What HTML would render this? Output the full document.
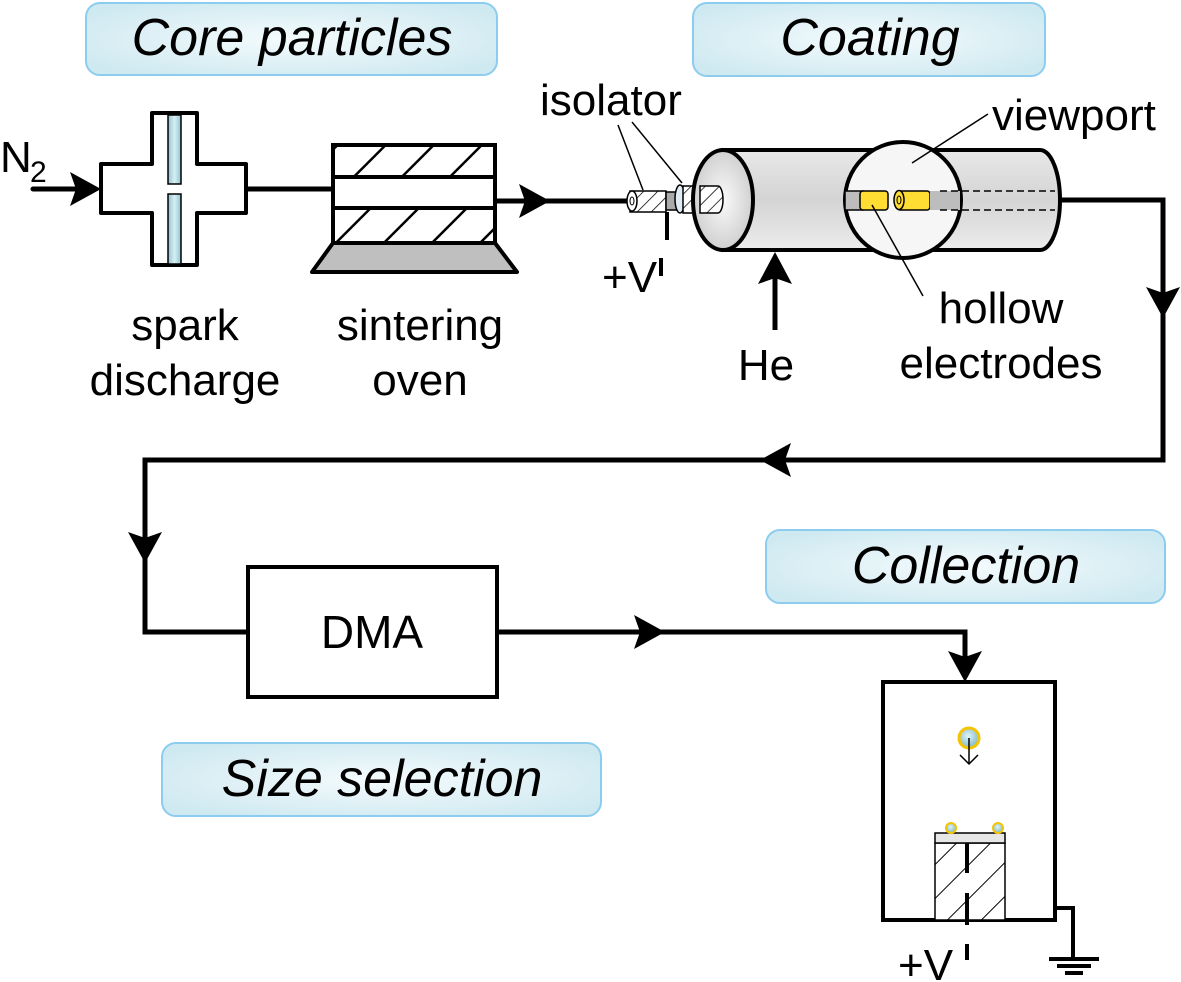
<!DOCTYPE html>
<html><head><style>body{margin:0;background:#fff}svg{display:block}text{font-family:"Liberation Sans",sans-serif;fill:#000}</style></head>
<body>
<svg width="1181" height="982" viewBox="0 0 1181 982" xmlns="http://www.w3.org/2000/svg">
<defs>
<radialGradient id="lb" cx="50%" cy="50%" r="60%"><stop offset="0" stop-color="#f4fbfd"/><stop offset="1" stop-color="#cfe9f1"/></radialGradient>
<linearGradient id="blue" x1="0" x2="1"><stop offset="0" stop-color="#8fc3cf"/><stop offset="0.5" stop-color="#d8f0f5"/><stop offset="1" stop-color="#8fc3cf"/></linearGradient>
<linearGradient id="cyl" x1="0" y1="0" x2="0" y2="1"><stop offset="0" stop-color="#e8e8e8"/><stop offset="0.5" stop-color="#d4d4d4"/><stop offset="1" stop-color="#ececec"/></linearGradient>
<radialGradient id="end" cx="50%" cy="50%" r="60%"><stop offset="0" stop-color="#fafafa"/><stop offset="1" stop-color="#c8c8c8"/></radialGradient>
<radialGradient id="pt" cx="45%" cy="40%" r="60%"><stop offset="0" stop-color="#e0f4f8"/><stop offset="1" stop-color="#7fb8c6"/></radialGradient>
<pattern id="hatch" patternUnits="userSpaceOnUse" width="34" height="34" patternTransform="rotate(45)"><rect width="34" height="34" fill="#fff"/><line x1="0" y1="0" x2="0" y2="34" stroke="#000" stroke-width="5"/></pattern>
<pattern id="hatch2" patternUnits="userSpaceOnUse" width="10" height="10" patternTransform="rotate(45)"><rect width="10" height="10" fill="#fff"/><line x1="0" y1="0" x2="0" y2="10" stroke="#000" stroke-width="1.5"/></pattern>
<pattern id="hatch3" patternUnits="userSpaceOnUse" width="24" height="24" patternTransform="rotate(45)"><rect width="24" height="24" fill="#fff"/><line x1="0" y1="0" x2="0" y2="24" stroke="#000" stroke-width="2"/></pattern>
</defs>

<rect x="86" y="3" width="411" height="72" rx="14" fill="url(#lb)" stroke="#8ccdef" stroke-width="2"/>
<text x="292" y="55" font-size="52" font-style="italic" text-anchor="middle">Core particles</text>
<rect x="693" y="3" width="352" height="73" rx="14" fill="url(#lb)" stroke="#8ccdef" stroke-width="2"/>
<text x="870" y="55" font-size="52" font-style="italic" text-anchor="middle">Coating</text>
<rect x="766" y="530" width="399" height="73" rx="14" fill="url(#lb)" stroke="#8ccdef" stroke-width="2"/>
<text x="966" y="583" font-size="52" font-style="italic" text-anchor="middle">Collection</text>
<rect x="162" y="743" width="439" height="73" rx="14" fill="url(#lb)" stroke="#8ccdef" stroke-width="2"/>
<text x="382" y="796" font-size="52" font-style="italic" text-anchor="middle">Size selection</text>

<text x="0" y="172" font-size="44">N</text><text x="30" y="182" font-size="30">2</text>
<line x1="33" y1="189" x2="90" y2="189" stroke="#000" stroke-width="5" stroke-linecap="round"/>
<path d="M101,189 L70,206 L76,189 L70,172 Z" fill="#000"/>

<path d="M152,113 H197 V164 H246 V213 H197 V265 H152 V213 H101 V164 H152 Z" fill="#fff" stroke="#000" stroke-width="4" stroke-linejoin="round"/>
<rect x="168" y="115" width="13" height="69" fill="url(#blue)" stroke="#000" stroke-width="1.5"/>
<rect x="168" y="194" width="13" height="70" fill="url(#blue)" stroke="#000" stroke-width="1.5"/>
<line x1="246" y1="189" x2="333" y2="189" stroke="#000" stroke-width="5"/>

<rect x="333" y="145" width="162" height="98" fill="url(#hatch)"/>
<rect x="332" y="177" width="164" height="31" fill="#fff"/>
<rect x="333" y="145" width="162" height="98" fill="none" stroke="#000" stroke-width="4"/>
<line x1="333" y1="177" x2="495" y2="177" stroke="#000" stroke-width="4"/>
<line x1="333" y1="208" x2="495" y2="208" stroke="#000" stroke-width="4"/>
<path d="M333,243 H495 L517,272 H312 Z" fill="#bfbfbf" stroke="#000" stroke-width="4" stroke-linejoin="round"/>
<line x1="495" y1="201" x2="630" y2="201" stroke="#000" stroke-width="5"/>
<path d="M550,201 L519,218 L525,201 L519,184 Z" fill="#000"/>
<text x="185" y="340" font-size="44" text-anchor="middle">spark</text>
<text x="185" y="395" font-size="44" text-anchor="middle">discharge</text>
<text x="420" y="340" font-size="44" text-anchor="middle">sintering</text>
<text x="420" y="395" font-size="44" text-anchor="middle">oven</text>

<text x="540" y="115" font-size="44">isolator</text>
<line x1="618" y1="125" x2="643" y2="190" stroke="#000" stroke-width="1.5"/>
<line x1="632" y1="122" x2="682" y2="183" stroke="#000" stroke-width="1.5"/>
<rect x="630" y="191" width="36" height="21" fill="url(#hatch2)" stroke="#000" stroke-width="1.5"/>
<ellipse cx="632" cy="201" rx="5" ry="10" fill="#fff" stroke="#000" stroke-width="1.5"/>
<ellipse cx="632" cy="201" rx="2" ry="4" fill="none" stroke="#000" stroke-width="1"/>
<rect x="666" y="192" width="14" height="18" fill="#aaa" stroke="#000" stroke-width="1.5"/>
<ellipse cx="680" cy="199" rx="5" ry="14" fill="#e0ecf5" stroke="#000" stroke-width="1.5"/>
<path d="M683,186 H718 A5,13.5 0 0 1 718,213 H683 Z" fill="url(#hatch2)" stroke="#000" stroke-width="1.5"/>
<line x1="667" y1="212" x2="667" y2="240" stroke="#000" stroke-width="4"/>
<text x="602" y="292" font-size="44">+V</text>
<line x1="661" y1="258" x2="661" y2="276" stroke="#000" stroke-width="4"/>

<path d="M723,150 H1040 A20,50 0 0 1 1040,250 H723 Z" fill="url(#cyl)" stroke="#000" stroke-width="4"/>
<ellipse cx="723" cy="200" rx="30" ry="50" fill="url(#end)" stroke="#000" stroke-width="4"/>
<path d="M700,186 H718 A5,13.5 0 0 1 718,213 H700 Z" fill="url(#hatch2)" stroke="#000" stroke-width="1.5"/>
<circle cx="903" cy="200" r="58" fill="#f6f6f6" stroke="#000" stroke-width="4"/>
<rect x="845" y="191" width="18" height="19" fill="#bdbdbd" stroke="#000" stroke-width="1.5"/>
<rect x="860" y="191" width="28" height="19" rx="3" fill="#ffdd33" stroke="#000" stroke-width="1.5"/>
<rect x="897" y="191" width="33" height="19" rx="3" fill="#ffdd33" stroke="#000" stroke-width="1.5"/>
<ellipse cx="899" cy="200" rx="5" ry="9.5" fill="#ffdd33" stroke="#000" stroke-width="1.5"/>
<ellipse cx="899" cy="200" rx="2" ry="4" fill="none" stroke="#000" stroke-width="1"/>
<rect x="930" y="191" width="30" height="19" fill="#bdbdbd"/>
<line x1="940" y1="191" x2="1055" y2="191" stroke="#000" stroke-width="1.5" stroke-dasharray="7,4"/>
<line x1="940" y1="210" x2="1055" y2="210" stroke="#000" stroke-width="1.5" stroke-dasharray="7,4"/>
<text x="992" y="130" font-size="44">viewport</text>
<line x1="988" y1="114" x2="912" y2="163" stroke="#000" stroke-width="1.5"/>
<line x1="872" y1="205" x2="923" y2="296" stroke="#000" stroke-width="1.5"/>
<text x="1001" y="323" font-size="44" text-anchor="middle">hollow</text>
<text x="1001" y="378" font-size="44" text-anchor="middle">electrodes</text>
<line x1="775" y1="330" x2="775" y2="270" stroke="#000" stroke-width="5"/>
<path d="M775,252 L758,284 L775,278 L792,284 Z" fill="#000"/>
<text x="766" y="380" font-size="44" text-anchor="middle">He</text>

<polyline points="1060,200 1163,200 1163,460 145,460 145,632 248,632" fill="none" stroke="#000" stroke-width="5"/>
<path d="M1163,318 L1146,287 L1163,293 L1180,287 Z" fill="#000"/>
<path d="M760,460 L791,443 L785,460 L791,477 Z" fill="#000"/>
<path d="M145,563 L128,532 L145,538 L162,532 Z" fill="#000"/>
<rect x="248" y="567" width="249" height="130" fill="#fff" stroke="#000" stroke-width="4"/>
<text x="372" y="648" font-size="46" text-anchor="middle">DMA</text>
<polyline points="497,632 965,632 965,670" fill="none" stroke="#000" stroke-width="5"/>
<path d="M665,632 L634,615 L640,632 L634,649 Z" fill="#000"/>
<path d="M965,682 L948,651 L965,657 L982,651 Z" fill="#000"/>

<rect x="883" y="682" width="172" height="238" fill="#fff" stroke="#000" stroke-width="4"/>
<polyline points="1055,908 1073,908 1073,958" fill="none" stroke="#000" stroke-width="4"/>
<line x1="1049" y1="959" x2="1099" y2="959" stroke="#000" stroke-width="4"/>
<line x1="1057" y1="966" x2="1091" y2="966" stroke="#000" stroke-width="4"/>
<line x1="1065" y1="973" x2="1083" y2="973" stroke="#000" stroke-width="4"/>
<rect x="935" y="843" width="70" height="77" fill="url(#hatch3)" stroke="#000" stroke-width="1.5"/>
<rect x="935" y="833" width="70" height="10" fill="#e6e6e6" stroke="#000" stroke-width="1.5"/>
<line x1="967" y1="843" x2="967" y2="873" stroke="#000" stroke-width="4"/>
<line x1="967" y1="893" x2="967" y2="925" stroke="#000" stroke-width="4"/>
<circle cx="951" cy="828" r="5" fill="url(#pt)" stroke="#f5c400" stroke-width="2"/>
<circle cx="998" cy="828" r="5" fill="url(#pt)" stroke="#f5c400" stroke-width="2"/>
<circle cx="969" cy="738" r="10" fill="url(#pt)" stroke="#f5c400" stroke-width="3"/>
<line x1="969" y1="738" x2="969" y2="764" stroke="#000" stroke-width="1.5"/>
<polyline points="960,755 969,764 978,755" fill="none" stroke="#000" stroke-width="1.5"/>
<text x="898" y="980" font-size="44">+V</text>
<line x1="967" y1="944" x2="967" y2="960" stroke="#000" stroke-width="4"/>
</svg>
</body></html>
